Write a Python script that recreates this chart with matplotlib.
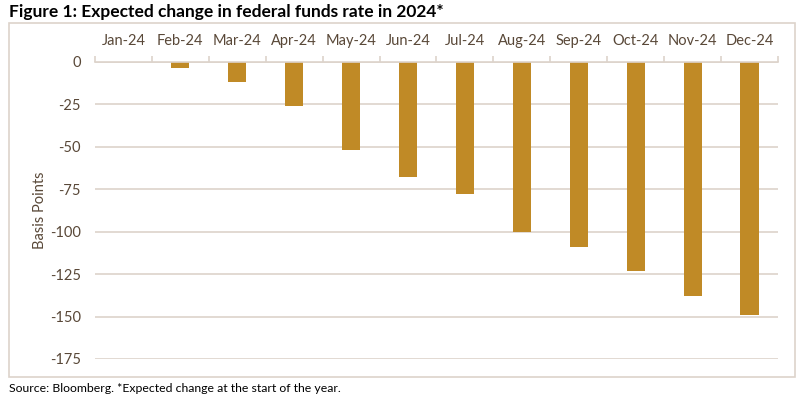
import matplotlib.pyplot as plt
from matplotlib.patches import Rectangle

# Data
months = ['Jan-24', 'Feb-24', 'Mar-24', 'Apr-24', 'May-24', 'Jun-24',
          'Jul-24', 'Aug-24', 'Sep-24', 'Oct-24', 'Nov-24', 'Dec-24']
change_bp = [0, -4, -12, -26, -52, -68, -78, -100, -109, -123, -138, -149]
yticks = [0, -25, -50, -75, -100, -125, -150, -175]

TEXT = '#594838'
GRID = '#ddd3cb'
BAR = '#c08a26'

plt.rcParams['font.family'] = ['Lato', 'DejaVu Sans']

W, H = 800, 399
fig = plt.figure(figsize=(W / 100, H / 100), dpi=100)

# Outer chart box
fig.patches.append(Rectangle((9 / W, 1 - 377 / H), (795 - 9) / W, (377 - 23) / H,
                             transform=fig.transFigure, fill=False,
                             edgecolor=GRID, linewidth=1.2))

ax = fig.add_axes([95 / W, 1 - 359 / H, (778 - 95) / W, (359 - 61.7) / H])

x = list(range(len(months)))
ax.bar(x, change_bp, width=0.32, color=BAR, linewidth=0, zorder=3)

ax.set_xlim(-0.5, len(months) - 0.5)
ax.set_ylim(-175, 0)
ax.set_yticks(yticks)
ax.set_yticklabels([str(v) for v in yticks])
ax.yaxis.grid(True, color=GRID, linewidth=1.2)
ax.set_axisbelow(True)

# Month labels on top, small tick marks between categories
ax.xaxis.tick_top()
ax.set_xticks(x)
ax.set_xticklabels(months)
ax.set_xticks([i - 0.5 for i in range(len(months) + 1)], minor=True)
ax.tick_params(axis='x', which='major', length=0, pad=10, labelsize=10.5,
               labelcolor=TEXT)
ax.tick_params(axis='x', which='minor', length=4, color=GRID, width=1.2,
               direction='out')
ax.tick_params(axis='y', length=0, pad=10, labelsize=10.5, labelcolor=TEXT)

for side in ['left', 'right', 'bottom']:
    ax.spines[side].set_visible(False)
ax.spines['top'].set_color(GRID)
ax.spines['top'].set_linewidth(1.2)
ax.spines['top'].set_zorder(4)

fig.text(40 / W, 1 - 210 / H, 'Basis Points', rotation=90, ha='center',
         va='center', fontsize=10.5, color=TEXT)

fig.text(9 / W, 1 - 12 / H, 'Figure 1: Expected change in federal funds rate in 2024*',
         fontsize=12.5, fontweight='bold', color='black', va='center', ha='left')
fig.text(9 / W, 1 - 389 / H, 'Source: Bloomberg. *Expected change at the start of the year.',
         fontsize=8.8, color='black', va='center', ha='left')

fig.savefig('out.png', dpi=100)
